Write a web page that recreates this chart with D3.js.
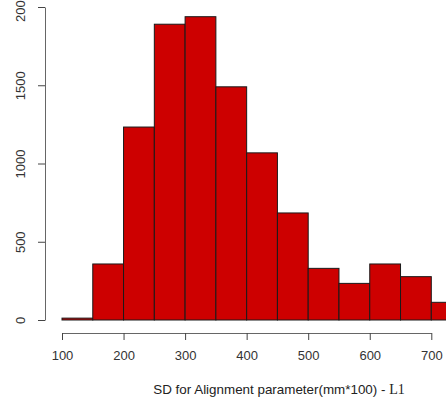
<!DOCTYPE html>
<html><head><meta charset="utf-8">
<script src="https://cdn.jsdelivr.net/npm/d3@7"></script>
<style>body{margin:0;background:#fff}svg{display:block}</style>
</head><body>
<svg id="c" width="446" height="403"></svg>
<script>
const binStarts = [100,150,200,250,300,350,400,450,500,550,600,650,700];
const binWidth = 50;
const counts = [12,358,1233,1890,1938,1490,1068,684,330,234,358,277,113];
const xTicks = [100,200,300,400,500,600,700];
const yTicks = [0,500,1000,1500,2000];

const svg = d3.select("#c");
const x = d3.scaleLinear().domain([100,700]).range([62,431.3]);
const y = d3.scaleLinear().domain([0,2000]).range([320,7]);

svg.append("g").selectAll("rect").data(binStarts).join("rect")
  .attr("x", d=>x(d)).attr("width", d=>x(d+binWidth)-x(d))
  .attr("y", (d,i)=>y(counts[i])).attr("height", (d,i)=>y(0)-y(counts[i]))
  .attr("fill","#CD0000").attr("stroke","#1a1a1a").attr("stroke-width",1);

const xa = svg.append("g").attr("transform","translate(0,333)")
  .call(d3.axisBottom(x).tickValues(xTicks).tickSize(7).tickPadding(11).tickSizeOuter(0));
xa.select(".domain").attr("stroke","#666");
xa.selectAll(".tick line").attr("stroke","#444");
xa.selectAll("text").attr("font-family","Liberation Sans, Arial, sans-serif").attr("font-size",13).attr("fill","#333");

const ya = svg.append("g").attr("transform","translate(45,0)")
  .call(d3.axisLeft(y).tickValues(yTicks).tickSize(7).tickSizeOuter(0).tickFormat(d3.format("d")));
ya.select(".domain").attr("stroke","#666");
ya.selectAll(".tick line").attr("stroke","#444");
ya.selectAll("text").attr("font-family","Liberation Sans, Arial, sans-serif").attr("font-size",13).attr("fill","#333")
  .attr("transform","rotate(-90)").attr("x",0).attr("y",-20).attr("dy","0").attr("text-anchor","middle");

const t = svg.append("text").attr("x",279).attr("y",394).attr("text-anchor","middle")
  .attr("font-family","Liberation Sans, Arial, sans-serif").attr("font-size",13.4).attr("fill","#222");
t.append("tspan").text("SD for Alignment parameter(mm*100) - ");
t.append("tspan").attr("font-family","Liberation Serif, serif").attr("font-size",14).text("L1");
</script>
</body></html>
